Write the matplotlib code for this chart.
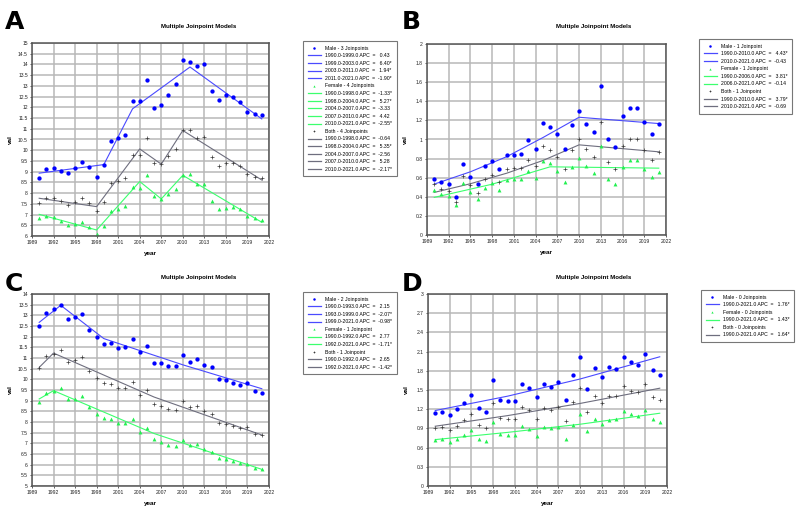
import numpy as np
import matplotlib.pyplot as plt
from matplotlib.lines import Line2D

plt.rcParams["font.family"] = ["Liberation Sans", "DejaVu Sans"]

years = np.arange(1990, 2022)

# ---- Panel A ----
a_male = [8.70, 9.13, 9.19, 9.03, 8.93, 9.16, 9.44, 9.21, 8.77, 9.31,
          10.42, 10.55, 10.70, 12.29, 12.29, 13.29, 11.98, 12.09, 12.57, 13.08,
          14.21, 14.13, 13.91, 14.00, 12.76, 12.34, 12.57, 12.48, 12.23, 11.79,
          11.70, 11.65]
a_female = [6.82, 6.93, 6.87, 6.68, 6.53, 6.56, 6.65, 6.40, 6.08, 6.48,
            7.18, 7.27, 7.40, 8.27, 8.22, 8.85, 7.87, 7.71, 7.94, 8.18,
            8.86, 8.89, 8.41, 8.43, 7.65, 7.24, 7.32, 7.37, 7.26, 6.95,
            6.82, 6.74]
a_both = [7.55, 7.79, 7.79, 7.62, 7.46, 7.59, 7.76, 7.52, 7.15, 7.59,
          8.46, 8.57, 8.71, 9.80, 9.78, 10.55, 9.42, 9.38, 9.72, 10.06,
          10.95, 10.93, 10.58, 10.62, 9.69, 9.27, 9.41, 9.41, 9.27, 8.89,
          8.77, 8.71]
a_male_fit_x = [1990, 1999, 2003, 2011, 2021]
a_male_fit_y = [8.93, 9.33, 11.93, 13.88, 11.46]
a_female_fit_x = [1990, 1998, 2004, 2007, 2010, 2021]
a_female_fit_y = [7.01, 6.28, 8.54, 7.73, 8.83, 6.64]
a_both_fit_x = [1990, 1998, 2004, 2007, 2010, 2021]
a_both_fit_y = [7.76, 7.37, 10.06, 9.35, 10.92, 8.61]
a_heads = ["Male - 3 Joinpoints", "Female - 4 Joinpoints", "Both - 4 Joinpoints"]
a_male_apc = ["1990.0-1999.0 APC  =   0.43", "1999.0-2003.0 APC  =   6.40*",
              "2003.0-2011.0 APC  =   1.94*", "2011.0-2021.0 APC  =  -1.90*"]
a_female_apc = ["1990.0-1998.0 APC  =  -1.33*", "1998.0-2004.0 APC  =   5.27*",
                "2004.0-2007.0 APC  =  -3.33", "2007.0-2010.0 APC  =   4.42",
                "2010.0-2021.0 APC  =  -2.55*"]
a_both_apc = ["1990.0-1998.0 APC  =  -0.64", "1998.0-2004.0 APC  =   5.35*",
              "2004.0-2007.0 APC  =  -2.56", "2007.0-2010.0 APC  =   5.28",
              "2010.0-2021.0 APC  =  -2.17*"]
a_yticks = np.arange(6, 15.01, 0.5)

# ---- Panel B ----
b_male = [0.59, 0.55, 0.53, 0.40, 0.74, 0.61, 0.53, 0.72, 0.77, 0.69,
          0.84, 0.84, 0.85, 0.99, 0.90, 1.17, 1.13, 1.06, 0.90, 1.15,
          1.30, 1.16, 1.08, 1.56, 1.00, 0.92, 1.25, 1.33, 1.33, 1.18,
          1.06, 1.16]
b_female = [0.47, 0.43, 0.41, 0.31, 0.54, 0.45, 0.38, 0.49, 0.54, 0.47,
            0.58, 0.59, 0.59, 0.67, 0.60, 0.78, 0.75, 0.67, 0.56, 0.71,
            0.81, 0.72, 0.65, 0.93, 0.59, 0.53, 0.71, 0.79, 0.79, 0.69,
            0.61, 0.66]
b_both = [0.53, 0.48, 0.46, 0.35, 0.62, 0.52, 0.44, 0.59, 0.63, 0.56,
          0.69, 0.70, 0.70, 0.79, 0.72, 0.93, 0.89, 0.82, 0.69, 0.89,
          1.00, 0.90, 0.82, 1.18, 0.76, 0.69, 0.93, 1.01, 1.01, 0.89,
          0.79, 0.87]
b_male_fit_x = [1990, 1995, 2000, 2005, 2010, 2021]
b_male_fit_y = [0.533, 0.662, 0.82, 1.02, 1.233, 1.167]
b_female_fit_x = [1990, 1998, 2006, 2021]
b_female_fit_y = [0.394, 0.532, 0.714, 0.70]
b_both_fit_x = [1990, 1995, 2000, 2005, 2010, 2021]
b_both_fit_y = [0.446, 0.537, 0.647, 0.78, 0.944, 0.871]
b_heads = ["Male - 1 Joinpoint", "Female - 1 Joinpoint", "Both - 1 Joinpoint"]
b_male_apc = ["1990.0-2010.0 APC  =   4.43*", "2010.0-2021.0 APC  =  -0.43"]
b_female_apc = ["1990.0-2006.0 APC  =   3.81*", "2006.0-2021.0 APC  =  -0.14"]
b_both_apc = ["1990.0-2010.0 APC  =   3.79*", "2010.0-2021.0 APC  =  -0.69"]
b_yticks = np.arange(0, 2.01, 0.2)

# ---- Panel C ----
c_male = [12.48, 13.13, 13.30, 13.48, 12.81, 12.94, 13.06, 12.33, 11.97, 11.64,
          11.72, 11.45, 11.50, 11.91, 11.27, 11.58, 10.75, 10.78, 10.63, 10.61,
          11.16, 10.80, 10.94, 10.69, 10.58, 10.02, 9.95, 9.83, 9.73, 9.84,
          9.47, 9.34]
c_female = [8.94, 9.34, 9.44, 9.59, 9.09, 9.08, 9.23, 8.69, 8.39, 8.20,
            8.13, 7.94, 7.94, 8.14, 7.55, 7.73, 7.19, 7.06, 6.92, 6.89,
            7.14, 6.91, 6.95, 6.73, 6.61, 6.31, 6.27, 6.16, 6.08, 6.03,
            5.83, 5.78]
c_both = [10.55, 11.09, 11.19, 11.39, 10.83, 10.89, 11.03, 10.39, 10.05, 9.83,
          9.80, 9.58, 9.58, 9.86, 9.27, 9.48, 8.84, 8.77, 8.61, 8.58,
          8.98, 8.69, 8.75, 8.53, 8.39, 7.97, 7.92, 7.83, 7.73, 7.78,
          7.45, 7.39]
c_male_fit_x = [1990, 1993, 1999, 2010, 2021]
c_male_fit_y = [12.67, 13.47, 11.91, 10.68, 9.56]
c_female_fit_x = [1990, 1992, 2006, 2021]
c_female_fit_y = [9.08, 9.47, 7.46, 5.78]
c_both_fit_x = [1990, 1992, 2006, 2021]
c_both_fit_y = [10.56, 11.23, 9.17, 7.39]
c_heads = ["Male - 2 Joinpoints", "Female - 1 Joinpoint", "Both - 1 Joinpoint"]
c_male_apc = ["1990.0-1993.0 APC  =   2.15", "1993.0-1999.0 APC  =  -2.07*",
              "1999.0-2021.0 APC  =  -0.98*"]
c_female_apc = ["1990.0-1992.0 APC  =   2.77", "1992.0-2021.0 APC  =  -1.71*"]
c_both_apc = ["1990.0-1992.0 APC  =   2.65", "1992.0-2021.0 APC  =  -1.42*"]
c_yticks = np.arange(5, 14.01, 0.5)

# ---- Panel D ----
d_male = [1.14, 1.15, 1.11, 1.21, 1.30, 1.42, 1.22, 1.16, 1.65, 1.34,
          1.33, 1.33, 1.59, 1.53, 1.39, 1.59, 1.55, 1.62, 1.35, 1.73,
          2.01, 1.52, 1.84, 1.71, 1.86, 1.83, 2.02, 1.93, 1.89, 2.07,
          1.81, 1.74]
d_female = [0.72, 0.74, 0.68, 0.74, 0.80, 0.87, 0.74, 0.70, 1.00, 0.82,
            0.79, 0.80, 0.93, 0.89, 0.78, 0.92, 0.90, 0.92, 0.74, 0.96,
            1.12, 0.86, 1.05, 0.97, 1.03, 1.04, 1.17, 1.12, 1.10, 1.18,
            1.04, 1.00]
d_both = [0.90, 0.92, 0.88, 0.94, 1.03, 1.13, 0.96, 0.91, 1.30, 1.06,
          1.04, 1.04, 1.23, 1.18, 1.05, 1.22, 1.19, 1.24, 1.02, 1.31,
          1.53, 1.16, 1.41, 1.30, 1.40, 1.40, 1.57, 1.49, 1.47, 1.59,
          1.39, 1.34]
d_male_fit_x = [1990, 2000, 2010, 2021]
d_male_fit_y = [1.179, 1.404, 1.672, 2.019]
d_female_fit_x = [1990, 2000, 2010, 2021]
d_female_fit_y = [0.725, 0.838, 0.965, 1.137]
d_both_fit_x = [1990, 2000, 2010, 2021]
d_both_fit_y = [0.934, 1.10, 1.29, 1.528]
d_heads = ["Male - 0 Joinpoints", "Female - 0 Joinpoints", "Both - 0 Joinpoints"]
d_male_apc = ["1990.0-2021.0 APC  =   1.76*"]
d_female_apc = ["1990.0-2021.0 APC  =   1.43*"]
d_both_apc = ["1990.0-2021.0 APC  =   1.64*"]
d_yticks = np.arange(0, 3.01, 0.3)

xticks = np.arange(1989, 2023, 3)

MALE_PT, MALE_LN = "#0000ff", "#4a4aff"
FEM_PT, FEM_LN = "#22f050", "#3cff6e"
BOTH_PT, BOTH_LN = "#3a3a3a", "#6e6e7e"

W, H = 797, 513
fig = plt.figure(figsize=(W / 100, H / 100), dpi=100)


def px_axes(x0, y0, x1, y1):
    return fig.add_axes([x0 / W, 1 - y1 / H, (x1 - x0) / W, (y1 - y0) / H])


def panel(box, letter, letter_xy, title_xy, legend_xy, male, female, both,
          fits, heads, apcs, yticks):
    ax = px_axes(*box)
    ax.set_xlim(1989, 2022)
    ax.set_ylim(yticks[0], yticks[-1])
    ax.set_xticks(xticks)
    ax.set_xticklabels([str(v) for v in xticks])
    ax.set_yticks(yticks)
    ax.set_yticklabels([f"{round(v, 2):g}" for v in yticks])
    ax.tick_params(labelsize=3.6, length=1.5, width=0.5, pad=1.5, colors="#222222")
    ax.grid(True, color="#b8b8b8", lw=1.1)
    ax.set_axisbelow(True)
    for s in ax.spines.values():
        s.set_color("#555555")
        s.set_linewidth(1.1)

    (mx, my), (fx, fy), (bx, by) = fits
    ax.plot(mx, my, color=MALE_LN, lw=0.8)
    ax.plot(fx, fy, color=FEM_LN, lw=0.8)
    ax.plot(bx, by, color=BOTH_LN, lw=0.8)
    ax.plot(years, male, "o", color=MALE_PT, ms=3.1, mew=0)
    ax.plot(years, female, "^", color=FEM_PT, ms=2.8, mew=0)
    ax.plot(years, both, "+", color=BOTH_PT, ms=2.4, mew=0.5)

    ax.text(0.5, -18 / (box[3] - box[1]), "year", transform=ax.transAxes,
            ha="center", va="center", fontsize=4.6, weight="bold")
    ax.text(-22 / (box[2] - box[0]), 0.5, "val",
            transform=ax.transAxes, rotation=90, ha="center", va="center",
            fontsize=4.6, weight="bold")

    fig.text(letter_xy[0] / W, 1 - letter_xy[1] / H, letter, fontsize=18,
             weight="bold", ha="left", va="top", family="DejaVu Sans")
    fig.text(title_xy[0] / W, 1 - title_xy[1] / H, "Multiple Joinpoint Models",
             fontsize=4.4, weight="bold", ha="center", va="center")

    handles, labels = [], []
    specs = [("o", MALE_PT, MALE_LN, 1.8), ("^", FEM_PT, FEM_LN, 1.6),
             ("+", BOTH_PT, BOTH_LN, 1.8)]
    for (mk, pc, lc, ms), head, group in zip(specs, heads, apcs):
        handles.append(Line2D([], [], ls="none", marker=mk, color=pc, ms=ms,
                              mew=0.5 if mk == "+" else 0))
        labels.append(head)
        for lab in group:
            handles.append(Line2D([], [], color=lc, lw=0.9))
            labels.append(lab)
    leg = ax.legend(handles, labels, loc="upper left",
                    bbox_to_anchor=(legend_xy[0] / W, 1 - legend_xy[1] / H),
                    bbox_transform=fig.transFigure, fontsize=3.7,
                    frameon=True, fancybox=False, borderaxespad=0,
                    handlelength=2.6, handletextpad=0.8, labelspacing=0.5,
                    borderpad=0.9)
    leg.get_frame().set_edgecolor("#555555")
    leg.get_frame().set_linewidth(0.8)
    return ax


panel((32, 43, 269, 236), "A", (5, 10), (199, 27), (303, 41),
      a_male, a_female, a_both,
      [(a_male_fit_x, a_male_fit_y), (a_female_fit_x, a_female_fit_y),
       (a_both_fit_x, a_both_fit_y)],
      a_heads, [a_male_apc, a_female_apc, a_both_apc], a_yticks)

panel((427, 44, 666, 235), "B", (402, 10), (594, 27), (699, 39),
      b_male, b_female, b_both,
      [(b_male_fit_x, b_male_fit_y), (b_female_fit_x, b_female_fit_y),
       (b_both_fit_x, b_both_fit_y)],
      b_heads, [b_male_apc, b_female_apc, b_both_apc], b_yticks)

panel((32, 294, 269, 486), "C", (5, 272), (199, 277), (303, 292),
      c_male, c_female, c_both,
      [(c_male_fit_x, c_male_fit_y), (c_female_fit_x, c_female_fit_y),
       (c_both_fit_x, c_both_fit_y)],
      c_heads, [c_male_apc, c_female_apc, c_both_apc], c_yticks)

panel((428, 294, 667, 486), "D", (402, 272), (594, 277), (701, 290),
      d_male, d_female, d_both,
      [(d_male_fit_x, d_male_fit_y), (d_female_fit_x, d_female_fit_y),
       (d_both_fit_x, d_both_fit_y)],
      d_heads, [d_male_apc, d_female_apc, d_both_apc], d_yticks)

fig.savefig("out.png", dpi=100, facecolor="white")
